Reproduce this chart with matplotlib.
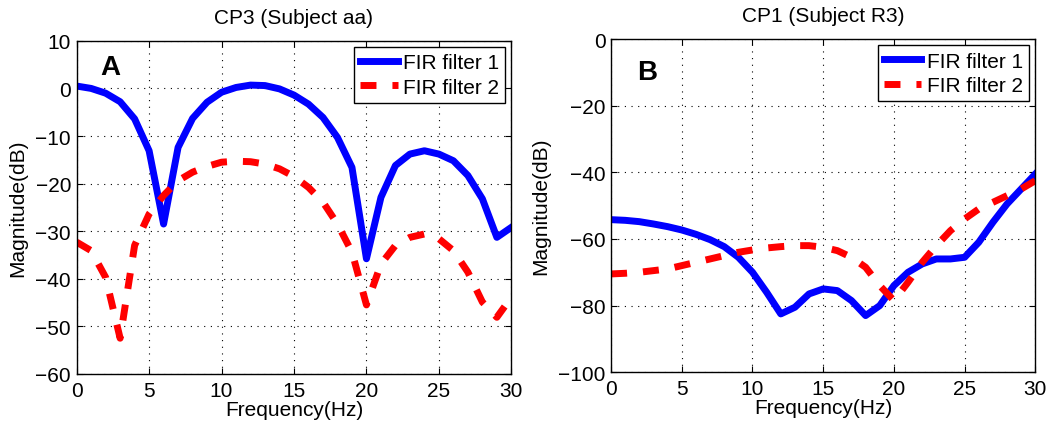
import matplotlib
matplotlib.use('Agg')
import matplotlib.pyplot as plt
import numpy as np

plt.rcParams['font.family'] = ['Liberation Sans', 'DejaVu Sans']

# frequency axis (Hz), sampled at 1 Hz
freq = np.arange(0, 31)

# Panel A: CP3 (Subject aa)
a_fir1 = [0.5, 0.0, -1.0, -2.8, -6.4, -13.1, -28.5, -12.4, -6.3, -2.9, -0.8,
          0.2, 0.7, 0.6, -0.1, -1.4, -3.3, -6.1, -10.3, -16.6, -35.8,
          -22.9, -16.2, -13.8, -13.1, -13.8, -15.2, -18.3, -23.2, -31.3, -29.2]
a_fir2 = [-32.3, -34.1, -39.7, -52.5, -33.0, -26.4, -22.5, -19.4, -17.6, -16.4, -15.5,
          -15.3, -15.4, -15.9, -16.9, -18.5, -20.8, -23.9, -28.5, -34.4, -45.5,
          -36.9, -33.0, -31.3, -30.6, -31.6, -34.1, -38.6, -44.9, -48.1, -43.9]

# Panel B: CP1 (Subject R3)
b_fir1 = [-54.2, -54.4, -54.8, -55.5, -56.3, -57.3, -58.6, -60.2, -62.3, -65.5, -70.0,
          -76.0, -82.5, -80.5, -76.5, -75.0, -75.5, -78.5, -83.0, -80.0, -74.0,
          -70.0, -67.5, -66.0, -66.0, -65.5, -61.0, -55.0, -49.5, -45.0, -40.5]
b_fir2 = [-70.5, -70.3, -70.0, -69.5, -69.0, -68.0, -67.0, -66.0, -65.0, -64.0, -63.3,
          -62.7, -62.3, -62.0, -62.0, -62.5, -63.5, -65.5, -68.5, -74.0, -78.5,
          -73.0, -67.0, -62.0, -57.5, -54.0, -51.0, -49.0, -47.0, -45.0, -42.5]

panels = [
    dict(title='CP3 (Subject aa)', tag='A', y1=a_fir1, y2=a_fir2,
         ylim=(-60, 10), yticks=np.arange(-60, 11, 10),
         rect=[0.073, 0.122, 0.414, 0.780], tagpos=(0.055, 0.92)),
    dict(title='CP1 (Subject R3)', tag='B', y1=b_fir1, y2=b_fir2,
         ylim=(-100, 0), yticks=np.arange(-100, 1, 20),
         rect=[0.582, 0.126, 0.404, 0.780], tagpos=(0.061, 0.90)),
]

fig = plt.figure(figsize=(10.5, 4.27), dpi=100)

for p in panels:
    ax = fig.add_axes(p['rect'])
    ax.plot(freq, p['y1'], color='#0000ff', lw=5, label='FIR filter 1')
    ax.plot(freq, p['y2'], color='#ff0000', lw=5, dashes=(2.3, 2.3),
            label='FIR filter 2')
    ax.set_xlim(0, 30)
    ax.set_ylim(*p['ylim'])
    ax.set_xticks(np.arange(0, 31, 5))
    ax.set_yticks(p['yticks'])
    ax.grid(True, color='black', linestyle=(0, (1, 5)), linewidth=0.8)
    ax.tick_params(direction='in', top=True, right=True, labelsize=15,
                   length=4)
    ax.tick_params(axis='x', pad=5)
    ax.tick_params(axis='y', pad=4)
    ax.set_xlabel('Frequency(Hz)', fontsize=15, labelpad=0)
    ax.set_ylabel('Magnitude(dB)', fontsize=15, labelpad=6)
    ax.set_title(p['title'], fontsize=15, pad=13)
    ax.text(p['tagpos'][0], p['tagpos'][1], p['tag'], transform=ax.transAxes,
            fontsize=20, fontweight='bold', ha='left', va='center')
    leg = ax.legend(loc='upper right', fontsize=15, fancybox=False,
                    framealpha=1, edgecolor='black', handlelength=1.8,
                    handletextpad=0.25, borderpad=0.3, labelspacing=0.25,
                    borderaxespad=0.3)
    leg.get_frame().set_linewidth(1.0)
    for s in ax.spines.values():
        s.set_linewidth(1.0)

fig.savefig('out.png', dpi=100)
